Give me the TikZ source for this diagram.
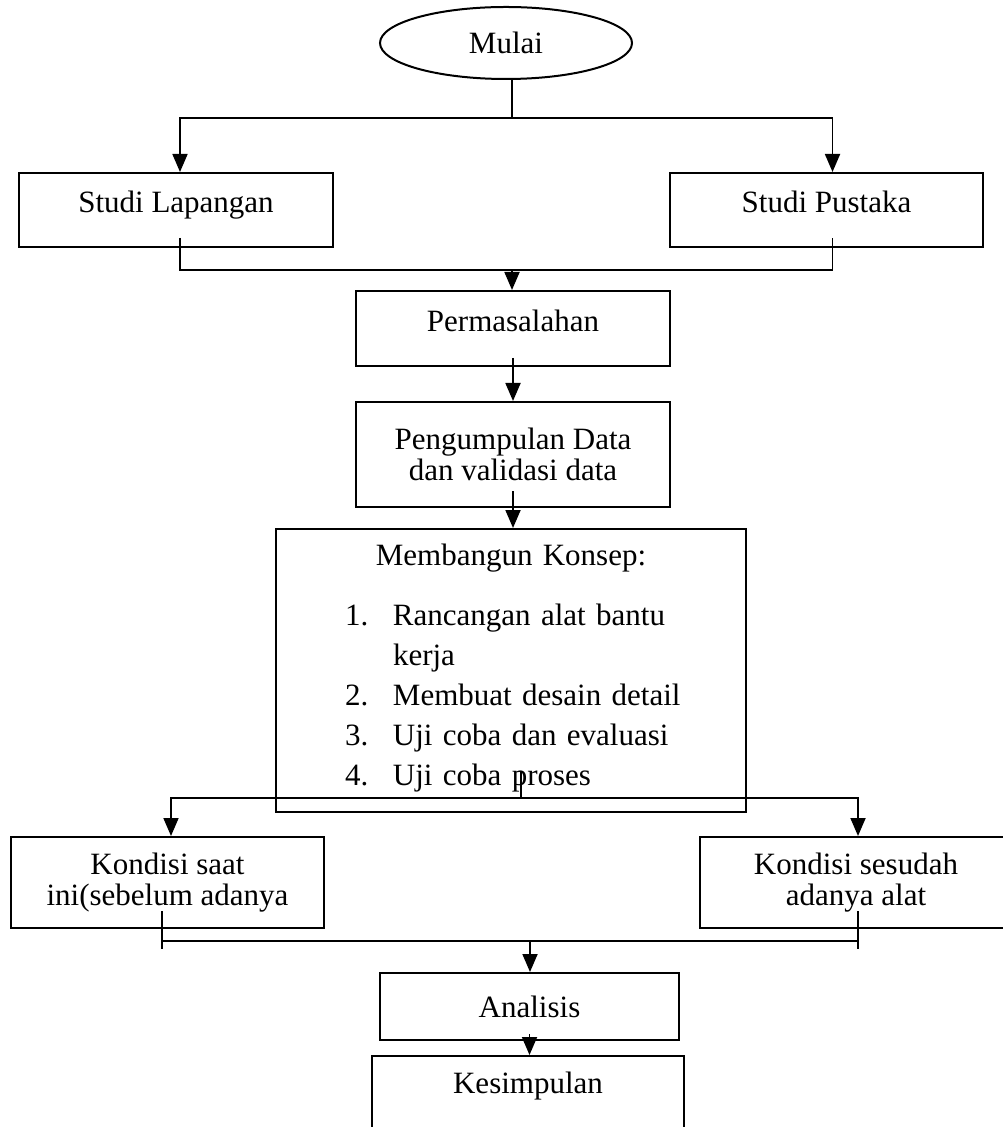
\documentclass[tikz,border=0pt]{standalone}
\usepackage{fontspec}
\setmainfont{Liberation Serif}
\usepackage{array}
\usepackage{tikz}
\usetikzlibrary{arrows.meta}
\usetikzlibrary{shapes.geometric}

\begin{document}
\begin{tikzpicture}[x=0.5pt,y=-0.5pt,
		kotak/.style={draw,line width=1pt,inner sep=0pt,align=center,
			font=\fontsize{15.5}{15.5}\selectfont},
		sebaris/.style={text height=9pt,text depth=6pt},
		garis/.style={line width=0.9pt},
		panah/.style={line width=0.9pt,-{Triangle[length=9pt,width=7.5pt]}}]
		\useasboundingbox (0,0) rectangle (1002,1127);
		
		\node[kotak,ellipse,minimum width=126pt,minimum height=36pt] (mulai) 
		at (506,43) {Mulai};
		\node[kotak,sebaris,minimum width=157pt,minimum height=37pt] (lapangan) 
		at (176,210) {Studi Lapangan};
		\node[kotak,sebaris,minimum width=156.5pt,minimum height=37pt] (pustaka) 
		at (826.5,210) {Studi Pustaka};
		\node[kotak,sebaris,minimum width=157pt,minimum height=37.5pt] (masalah) 
		at (513,328.5) {Permasalahan};
		\node[kotak,minimum width=157pt,minimum height=52.5pt] (data) 
		at (513,454.5) {Pengumpulan Data\\dan validasi data};
		\node[kotak,text width=235pt,minimum height=141.5pt,
		font=\fontsize{15.5}{20}\selectfont] (konsep) at (511,670.5) 
		{Membangun Konsep:\\[10pt]\hspace*{11.5pt}\begin{tabular}[t]{@{}p{24pt}@{}>{\raggedright\arraybackslash}p{153.5pt}@{}}
			1. & Rancangan alat bantu kerja\\
			2. & Membuat desain detail\\
			3. & Uji coba dan evaluasi\\
			4. & Uji coba proses
		\end{tabular}};
		\node[kotak,minimum width=156.5pt,minimum height=45.5pt] (saatini) 
		at (167.5,882.5) {Kondisi saat\\ini(sebelum adanya};
		\node[kotak,minimum width=156pt,minimum height=45.5pt] (sesudah) 
		at (856,882.5) {Kondisi sesudah\\adanya alat};
		\node[kotak,minimum width=149.5pt,minimum height=33.5pt] (analisis) 
		at (529.5,1006.5) {Analisis};
		\node[kotak,anchor=north,minimum width=156pt,inner ysep=8pt,
		text depth=40pt] (simpulan) at (528,1055) {Kesimpulan};
		
		\coordinate (fork1) at (512,118);
		\coordinate (join1) at (512,270);
		\coordinate (fork2) at (521,798);
		\coordinate (join2) at (530,941);
		
		\draw[garis] (mulai.south -| fork1) -- (fork1);
		\draw[panah] (fork1) -| ([xshift=2pt]lapangan.north);
		\draw[panah] (fork1) -| ([xshift=3pt]pustaka.north);
		\draw[garis] ([shift={(2pt,5pt)}]lapangan.south) |- (join1) 
		-| ([shift={(3pt,5pt)}]pustaka.south);
		\draw[panah] (join1) -- (join1 |- masalah.north);
		\draw[panah] ([yshift=4.5pt]masalah.south) -- (data);
		\draw[panah] ([yshift=8.5pt]data.south) -- (data.south |- konsep.north);
		
		\draw[garis] ([shift={(5pt,21pt)}]konsep.south) -- (fork2);
		\draw[panah] (fork2) -| ([xshift=1.75pt]saatini.north);
		\draw[panah] (fork2) -| ([xshift=1pt]sesudah.north);
		\draw[garis] ([shift={(-2.75pt,9pt)}]saatini.south) coordinate (kl) 
		-- ++(0,38);
		\draw[garis] ([shift={(1pt,9pt)}]sesudah.south) coordinate (kr) 
		-- ++(0,38);
		\draw[garis] (kl |- join2) -- (kr |- join2);
		\draw[panah] (join2) -- (join2 |- analisis.north);
		\draw[panah] ([yshift=3.5pt]analisis.south) -- (analisis.south |- simpulan.north);
	\end{tikzpicture}
\end{document}
